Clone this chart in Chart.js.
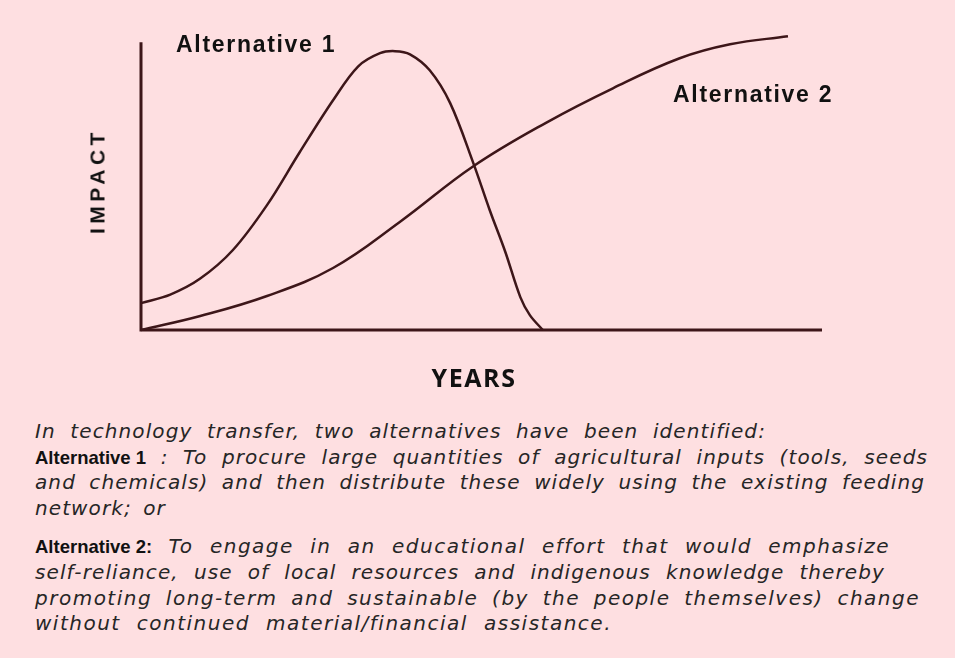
<!DOCTYPE html>
<html>
<head>
<meta charset="utf-8">
<script src="https://cdn.jsdelivr.net/npm/chart.js@4.4.1/dist/chart.umd.min.js"></script>
<style>
  html, body { margin: 0; padding: 0; }
  body {
    width: 955px; height: 658px; position: relative; overflow: hidden;
    background: #fedfe1;
  }
  #chart-wrap { position: absolute; left: 0; top: 0; width: 955px; height: 410px; }
  .lbl {
    position: absolute; white-space: nowrap; color: #111;
    font-family: "Liberation Sans", Arial, sans-serif; font-weight: bold;
    line-height: 1;
  }
  #alt1 { left: 176px; top: 33px; font-size: 23px; letter-spacing: 1.7px; }
  #alt2 { left: 673px; top: 83px; font-size: 23px; letter-spacing: 1.7px; }
  #impact {
    left: 97px; top: 181px; font-size: 21px; letter-spacing: 4.5px;
    transform: translate(-50%, -50%) rotate(-90deg);
  }
  #years {
    left: 474px; top: 377px; font-size: 25px; letter-spacing: 1.6px;
    font-family: "Open Sans", sans-serif;
    transform: translate(-50%, -50%);
  }
  #note {
    position: absolute; left: 35px; top: 419px; color: #262626;
    font-family: "DejaVu Sans", sans-serif; font-style: italic;
    font-size: 20px; letter-spacing: 1.1px; word-spacing: 4px;
    line-height: 25.6px;
  }
  #note div { white-space: nowrap; text-align: justify; text-align-last: justify; }
  #note div.short { text-align-last: left; }
  #note div.wide { letter-spacing: 1.5px; }
  #note b {
    display: inline-block;
    font-family: "Liberation Sans", Arial, sans-serif; font-style: normal;
    font-size: 18.5px; letter-spacing: 0; word-spacing: 0; color: #111;
  }
  #note .gap { margin-top: 13px; }
</style>
</head>
<body>
<div id="chart-wrap"><canvas id="impactChart"></canvas></div>
<div class="lbl" id="alt1">Alternative 1</div>
<div class="lbl" id="alt2">Alternative 2</div>
<div class="lbl" id="impact">IMPACT</div>
<div class="lbl" id="years">YEARS</div>
<div id="note">
  <div style="width:731px">In technology transfer, two alternatives have been identified:</div>
  <div style="width:893px"><b>Alternative 1</b> : To procure large quantities of agricultural inputs (tools, seeds</div>
  <div style="width:890px">and chemicals) and then distribute these widely using the existing feeding</div>
  <div class="short">network; or</div>
  <div class="gap wide" style="width:855px"><b>Alternative 2:</b> To engage in an educational effort that would emphasize</div>
  <div style="width:850px">self-reliance, use of local resources and indigenous knowledge thereby</div>
  <div class="wide" style="width:885px">promoting long-term and sustainable (by the people themselves) change</div>
  <div class="wide" style="width:577px">without continued material/financial assistance.</div>
</div>
<script>
// 曲線資料（橫軸：年，縱軸：影響，無單位，從圖上估讀）
const alt1Years  = [0, 4.3, 8.7, 13.5, 18.5, 23.3, 28.2, 31.9, 35.1, 37.3, 39.5, 42.4, 45.4, 48.8, 51.2, 53.5, 55.7, 57.1, 59];
const alt1Impact = [9.4, 12.4, 18.0, 28.0, 43.7, 62.2, 80.4, 92.3, 96.9, 97.6, 96.5, 90.9, 79.4, 58.4, 42, 27.3, 11.5, 5.2, 0];

const alt2Years  = [0, 8.7, 18.5, 28.2, 38.0, 48.8, 59.6, 69.3, 79.1, 86.5, 95];
const alt2Impact = [0, 4.9, 11.9, 21.7, 37.8, 57.3, 72.7, 84.6, 95.1, 100, 102.8];

// 座標軸範圍
const xAxisEnd = 100;
const yAxisTop = 100;

const lineColor = '#3d1619';

function toPoints(xs, ys) {
    return xs.map((x, i) => ({x: x, y: ys[i]}));
}

// 畫出左邊與下方的軸線
const axisLines = {
    id: 'axisLines',
    beforeDatasetsDraw(chart) {
        const {ctx, scales: {x, y}} = chart;
        const x0 = x.getPixelForValue(0);
        const y0 = y.getPixelForValue(0);
        ctx.save();
        ctx.strokeStyle = lineColor;
        ctx.lineWidth = 3;
        ctx.beginPath();
        ctx.moveTo(x0, y.getPixelForValue(yAxisTop + 0.7));
        ctx.lineTo(x0, y0);
        ctx.lineTo(x.getPixelForValue(xAxisEnd), y0);
        ctx.stroke();
        ctx.restore();
    }
};

const ctx = document.getElementById('impactChart').getContext('2d');
const impactChart = new Chart(ctx, {
    type: 'line',
    data: {
        datasets: [
            {
                label: 'Alternative 1',
                data: toPoints(alt1Years, alt1Impact),
                borderColor: lineColor,
                borderWidth: 2.5,
                pointRadius: 0,
                tension: 0.35,
                clip: false
            },
            {
                label: 'Alternative 2',
                data: toPoints(alt2Years, alt2Impact),
                borderColor: lineColor,
                borderWidth: 2.5,
                pointRadius: 0,
                tension: 0.4,
                clip: false
            }
        ]
    },
    options: {
        responsive: true,
        maintainAspectRatio: false,
        animation: false,
        layout: {padding: {left: 141, right: 133, top: 30, bottom: 80}},
        scales: {
            x: {type: 'linear', min: 0, max: xAxisEnd, display: false},
            y: {min: 0, max: 105, display: false}
        },
        plugins: {
            legend: {display: false},
            tooltip: {enabled: false}
        }
    },
    plugins: [axisLines]
});
</script>
</body>
</html>
